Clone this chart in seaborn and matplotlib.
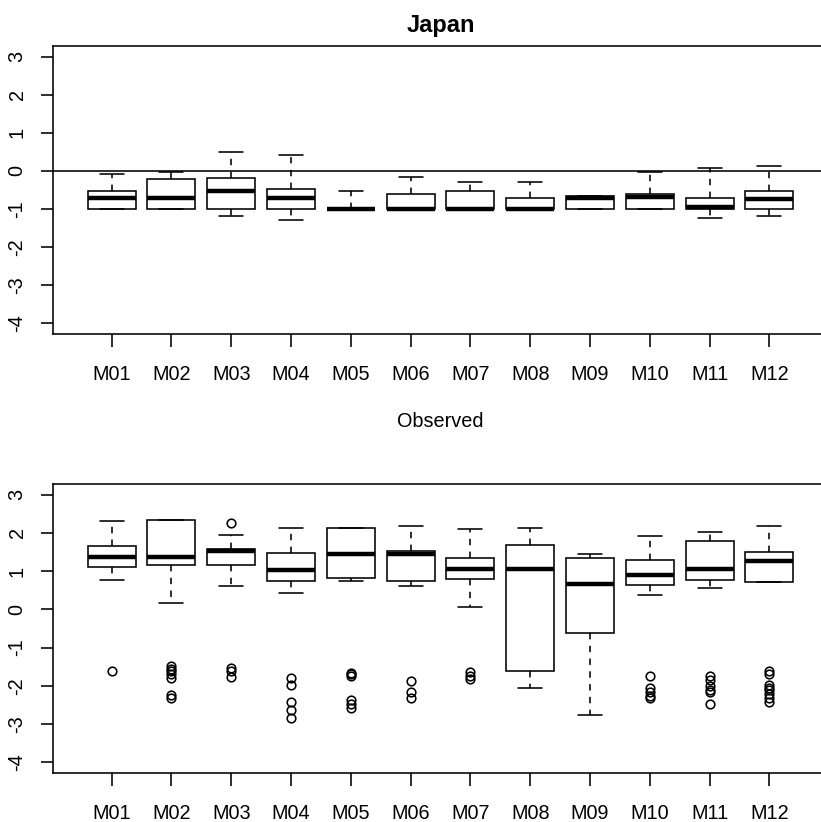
import numpy as np
import pandas as pd
import matplotlib
matplotlib.use("Agg")
import matplotlib.pyplot as plt
import seaborn as sns

sns.set_style("white")
plt.rcParams["font.family"] = ["Liberation Sans", "DejaVu Sans"]
plt.rcParams["text.color"] = "black"

months = ["M01", "M02", "M03", "M04", "M05", "M06",
          "M07", "M08", "M09", "M10", "M11", "M12"]
yticks = [-4, -3, -2, -1, 0, 1, 2, 3]

# Upper panel (Japan): five-number summaries per month
top_lo  = [-1.00, -1.00, -1.17, -1.28, -1.00, -1.00, -1.00, -1.00, -1.00, -1.00, -1.24, -1.18]
top_q1  = [-1.00, -1.00, -1.00, -1.00, -1.00, -1.00, -1.00, -1.00, -1.00, -1.00, -1.00, -0.99]
top_med = [-0.70, -0.70, -0.53, -0.70, -1.00, -1.00, -1.00, -1.00, -0.70, -0.68, -0.94, -0.73]
top_q3  = [-0.53, -0.22, -0.18, -0.48, -0.99, -0.60, -0.53, -0.70, -0.66, -0.60, -0.70, -0.53]
top_hi  = [-0.09, -0.02, 0.50, 0.43, -0.53, -0.16, -0.29, -0.29, -0.66, -0.02, 0.07, 0.12]

# Lower panel (Observed): five-number summaries and outlying values
obs_lo  = [0.77, 0.16, 0.60, 0.44, 0.73, 0.62, 0.05, -2.06, -2.76, 0.38, 0.57, 0.71]
obs_q1  = [1.12, 1.15, 1.15, 0.74, 0.83, 0.74, 0.80, -1.60, -0.62, 0.65, 0.78, 0.71]
obs_med = [1.37, 1.37, 1.54, 1.04, 1.44, 1.46, 1.06, 1.05, 0.67, 0.91, 1.06, 1.26]
obs_q3  = [1.66, 2.33, 1.58, 1.48, 2.13, 1.53, 1.34, 1.68, 1.35, 1.29, 1.78, 1.50]
obs_hi  = [2.31, 2.33, 1.94, 2.13, 2.13, 2.17, 2.09, 2.14, 1.45, 1.91, 2.02, 2.19]
obs_out = [
    [-1.61],
    [-1.48, -1.55, -1.62, -1.70, -1.80, -2.25, -2.32],
    [-1.53, -1.60, -1.76, 2.27],
    [-1.79, -1.97, -2.43, -2.62, -2.83],
    [-1.66, -1.70, -1.75, -2.36, -2.47, -2.57],
    [-1.88, -2.15, -2.32],
    [-1.64, -1.73, -1.81],
    [],
    [],
    [-1.75, -2.05, -2.17, -2.27, -2.33],
    [-1.74, -1.86, -2.00, -2.12, -2.16, -2.47],
    [-1.62, -1.69, -1.97, -2.05, -2.12, -2.22, -2.33, -2.42],
]


def month_values(lo, q1, med, q3, hi, out):
    """Observations whose quartiles, whisker ends and outliers are the given ones."""
    lower = [o for o in out if o < q1] + [lo]
    upper = [hi] + [o for o in out if o > q3]
    m = max(len(lower), len(upper))
    lower += [lo] * (m - len(lower))
    upper += [hi] * (m - len(upper))
    return lower + [q1] + [med] * m + [q3] * m + upper


def long_table(lo, q1, med, q3, hi, out=None):
    rows = []
    for i, mon in enumerate(months):
        o = out[i] if out is not None else []
        for v in month_values(lo[i], q1[i], med[i], q3[i], hi[i], o):
            rows.append((mon, v))
    return pd.DataFrame(rows, columns=["month", "value"])


top_df = long_table(top_lo, top_q1, top_med, top_q3, top_hi)
obs_df = long_table(obs_lo, obs_q1, obs_med, obs_q3, obs_hi, obs_out)

W, H = 821, 822
fig = plt.figure(figsize=(W / 100, H / 100), dpi=100)

LW = 1.15
x_left, x_right = 53, 828
ax_top = fig.add_axes([x_left / W, 1 - 334 / H, (x_right - x_left) / W, (334 - 46) / H])
ax_bot = fig.add_axes([x_left / W, 1 - 773 / H, (x_right - x_left) / W, (773 - 484) / H])

box_kws = dict(
    x="month", y="value", order=months, width=0.8,
    color="white", linecolor="black", linewidth=LW,
    fliersize=6,
    medianprops=dict(linewidth=3.2, color="black", solid_capstyle="butt"),
    whiskerprops=dict(linestyle=(0, (4, 4)), linewidth=LW, color="black"),
    capprops=dict(linewidth=LW, color="black"),
    flierprops=dict(marker="o", markerfacecolor="none", markeredgecolor="black",
                    markeredgewidth=LW, markersize=6.2),
)

sns.boxplot(data=top_df, ax=ax_top, whis=np.inf, **box_kws)
sns.boxplot(data=obs_df, ax=ax_bot, whis=1.5, **box_kws)

ax_top.axhline(0, color="black", linewidth=LW, zorder=5)

for ax in (ax_top, ax_bot):
    ax.set_xlim(-0.98, 11.98)
    ax.set_ylim(-4.28, 3.28)
    ax.set_yticks(yticks)
    ax.set_yticklabels([str(t) for t in yticks])
    ax.set_xticks(range(len(months)))
    ax.set_xticklabels(months)
    ax.set_xlabel("")
    ax.set_ylabel("")
    ax.grid(False)
    for sp in ax.spines.values():
        sp.set_visible(True)
        sp.set_color("black")
        sp.set_linewidth(LW)
    ax.tick_params(axis="both", direction="out", length=9, width=LW,
                   color="black", labelsize=14.3, labelcolor="black")
    ax.tick_params(axis="x", pad=13.5, bottom=True)
    ax.tick_params(axis="y", pad=10, left=True, labelrotation=90)
    for lab in ax.get_yticklabels():
        lab.set_verticalalignment("center")

xc = (x_left + x_right) / 2 / W
fig.text(xc, 1 - 32 / H, "Japan", ha="center", va="baseline",
         fontsize=17, fontweight="bold", color="black")
fig.text(xc, 1 - 427 / H, "Observed", ha="center", va="baseline",
         fontsize=14.3, color="black")

fig.savefig("out.png", dpi=100, facecolor="white")
